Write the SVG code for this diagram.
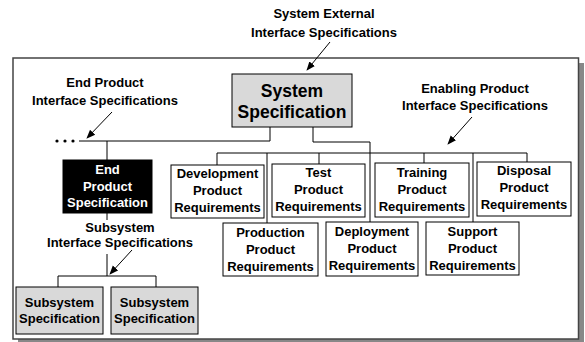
<svg xmlns="http://www.w3.org/2000/svg" width="585" height="342" viewBox="0 0 585 342">
<style>
text{font-family:"Liberation Sans",Arial,sans-serif;font-weight:bold;text-anchor:middle;fill:#000}
.t{font-size:13px}
.big{font-size:17.5px}
.w{fill:#fff}
.box{fill:#fff;stroke:#000;stroke-width:1}
.gray{fill:#d9d9d9;stroke:#000;stroke-width:1}
.blk{fill:#000;stroke:#000;stroke-width:1}
.ln{fill:none;stroke:#000;stroke-width:1}
.arr{fill:none;stroke:#000;stroke-width:1;marker-end:url(#ah)}
</style>
<defs>
<marker id="ah" viewBox="0 0 10 10" refX="9" refY="5" markerWidth="9" markerHeight="9" markerUnits="userSpaceOnUse" orient="auto">
<path d="M0,1 L10,5 L0,9 Z" fill="#000"/>
</marker>
</defs>
<rect x="0" y="0" width="585" height="342" fill="#fff"/>
<g id="frame">
<rect x="18" y="63" width="566" height="279" fill="#888"/>
<rect x="13" y="58" width="565.5" height="281" fill="#fff" stroke="#444" stroke-width="1.5"/>
</g>
<g id="connectors">
<polyline class="ln" points="270,127 270,141 79,141"/>
<line class="ln" x1="107" y1="141" x2="107" y2="160"/>
<polyline class="ln" points="313,127 313,142 370,142 370,222"/>
<line class="ln" x1="217" y1="153" x2="527" y2="153"/>
<line class="ln" x1="217" y1="153" x2="217" y2="165"/>
<line class="ln" x1="267" y1="153" x2="267" y2="223"/>
<line class="ln" x1="319" y1="153" x2="319" y2="164"/>
<line class="ln" x1="424" y1="153" x2="424" y2="163"/>
<line class="ln" x1="473" y1="153" x2="473" y2="222"/>
<line class="ln" x1="527" y1="153" x2="527" y2="162"/>
<line class="ln" x1="107" y1="213" x2="107" y2="220"/>
<line class="ln" x1="107" y1="254" x2="107" y2="276"/>
<polyline class="ln" points="58,287 58,276 156,276 156,287"/>
<circle cx="57" cy="141" r="1.6"/>
<circle cx="65" cy="141" r="1.6"/>
<circle cx="73" cy="141" r="1.6"/>
<line class="arr" x1="330" y1="42" x2="307" y2="70"/>
<line class="arr" x1="112" y1="112" x2="87" y2="138"/>
<line class="arr" x1="472" y1="117" x2="448" y2="144"/>
<line class="arr" x1="132" y1="250" x2="110" y2="274"/>
</g>
<g id="labels">
<text class="t" x="324" y="18">System External</text>
<text class="t" x="324" y="37">Interface Specifications</text>
<text class="t" x="105" y="87">End Product</text>
<text class="t" x="105" y="105">Interface Specifications</text>
<text class="t" x="475" y="93">Enabling Product</text>
<text class="t" x="475" y="110">Interface Specifications</text>
<text class="t" x="120" y="232">Subsystem</text>
<text class="t" x="120" y="247">Interface Specifications</text>
</g>
<g id="system-spec">
<rect class="gray" x="232" y="74" width="120" height="53"/>
<text class="big" x="292" y="97">System</text>
<text class="big" x="292" y="118">Specification</text>
</g>
<g id="end-product-spec">
<rect class="blk" x="63" y="160" width="89" height="53"/>
<text class="t w" x="107.5" y="174">End</text>
<text class="t w" x="107.5" y="191">Product</text>
<text class="t w" x="107.5" y="207">Specification</text>
</g>
<g id="subsystem-spec-1">
<rect class="gray" x="16" y="287" width="87" height="47"/>
<text class="t" x="59.5" y="307">Subsystem</text>
<text class="t" x="59.5" y="323">Specification</text>
</g>
<g id="subsystem-spec-2">
<rect class="gray" x="111" y="287" width="87" height="47"/>
<text class="t" x="154.5" y="307">Subsystem</text>
<text class="t" x="154.5" y="323">Specification</text>
</g>
<g id="development">
<rect class="box" x="171" y="165" width="93" height="53"/>
<text class="t" x="217.5" y="178">Development</text>
<text class="t" x="217.5" y="195">Product</text>
<text class="t" x="217.5" y="212">Requirements</text>
</g>
<g id="test">
<rect class="box" x="272" y="164" width="93" height="53"/>
<text class="t" x="318.5" y="177">Test</text>
<text class="t" x="318.5" y="194">Product</text>
<text class="t" x="318.5" y="211">Requirements</text>
</g>
<g id="training">
<rect class="box" x="375" y="163" width="94" height="54"/>
<text class="t" x="422" y="177">Training</text>
<text class="t" x="422" y="194">Product</text>
<text class="t" x="422" y="211">Requirements</text>
</g>
<g id="disposal">
<rect class="box" x="477" y="162" width="94" height="54"/>
<text class="t" x="524" y="175">Disposal</text>
<text class="t" x="524" y="192">Product</text>
<text class="t" x="524" y="209">Requirements</text>
</g>
<g id="production">
<rect class="box" x="223" y="223" width="95" height="53"/>
<text class="t" x="270.5" y="237">Production</text>
<text class="t" x="270.5" y="254">Product</text>
<text class="t" x="270.5" y="271">Requirements</text>
</g>
<g id="deployment">
<rect class="box" x="326" y="222" width="92" height="54"/>
<text class="t" x="372" y="236">Deployment</text>
<text class="t" x="372" y="253">Product</text>
<text class="t" x="372" y="270">Requirements</text>
</g>
<g id="support">
<rect class="box" x="426" y="222" width="93" height="53"/>
<text class="t" x="472.5" y="236">Support</text>
<text class="t" x="472.5" y="253">Product</text>
<text class="t" x="472.5" y="270">Requirements</text>
</g>
</svg>
